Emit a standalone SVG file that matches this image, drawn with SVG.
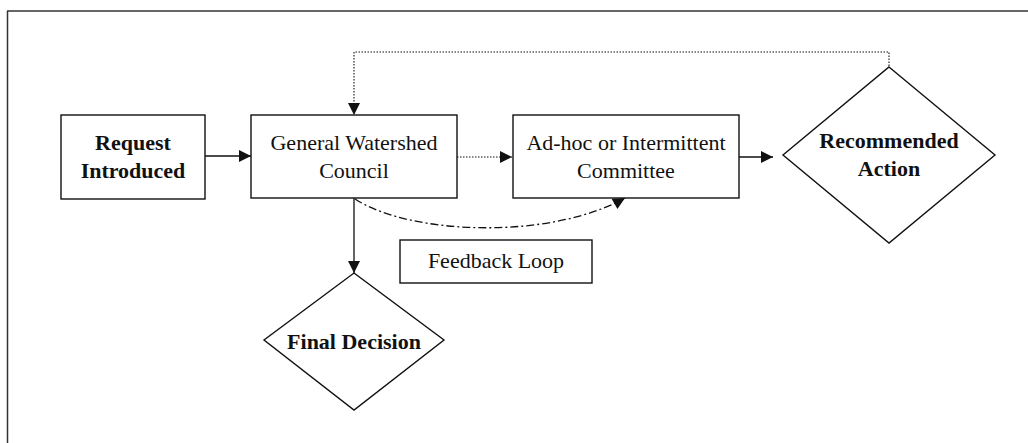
<svg xmlns="http://www.w3.org/2000/svg" width="1028" height="443" viewBox="0 0 1028 443">
<style>
.box{fill:#fff;stroke:#111;stroke-width:1.4}
.t{font-family:"Liberation Serif","Times New Roman",serif;font-size:22px;fill:#111;text-anchor:middle}
.b{font-weight:bold}
.c{fill:none;stroke:#111;stroke-width:1.3}
.dot{stroke-dasharray:1.5 1.5;stroke-width:1.1}
.dd{stroke-dasharray:8 3 2 3}
</style>
<defs>
<marker id="ah" markerUnits="userSpaceOnUse" markerWidth="14" markerHeight="14" viewBox="0 0 14 14" refX="13" refY="7" orient="auto">
<path d="M1,1 L13,7 L1,13 Z" fill="#111"/>
</marker>
</defs>
<g id="frame" fill="none" stroke="#333" stroke-width="1.5">
<line x1="7" y1="11" x2="1028" y2="11"/>
<line x1="7.5" y1="11" x2="7.5" y2="443"/>
</g>
<g id="connectors">
<line class="c" x1="205" y1="156" x2="251" y2="156" marker-end="url(#ah)"/>
<line class="c dot" x1="457" y1="157" x2="512" y2="157" marker-end="url(#ah)"/>
<line class="c" x1="739" y1="157" x2="773" y2="157" marker-end="url(#ah)"/>
<line class="c" x1="354" y1="198" x2="354" y2="273" marker-end="url(#ah)"/>
<path class="c dot" d="M889,66 L889,52 L354,52 L354,115" marker-end="url(#ah)"/>
<path class="c dd" d="M355,199 C410,235 550,240 625,198" marker-end="url(#ah)"/>
</g>
<g id="request">
<rect class="box" x="61" y="115" width="144" height="84"/>
<text class="t b" x="133" y="150">Request</text>
<text class="t b" x="133" y="178">Introduced</text>
</g>
<g id="council">
<rect class="box" x="251" y="115" width="206" height="83"/>
<text class="t" x="354" y="150">General Watershed</text>
<text class="t" x="354" y="178">Council</text>
</g>
<g id="committee">
<rect class="box" x="513" y="115" width="226" height="83"/>
<text class="t" x="626" y="150">Ad-hoc or Intermittent</text>
<text class="t" x="626" y="178">Committee</text>
</g>
<g id="recommended">
<polygon class="box" points="889,67 995,155 889,243 783,155"/>
<text class="t b" x="889" y="148">Recommended</text>
<text class="t b" x="889" y="176">Action</text>
</g>
<g id="final">
<polygon class="box" points="354,273 444,340 354,410 264,340"/>
<text class="t b" x="354" y="349">Final Decision</text>
</g>
<g id="feedback">
<rect class="box" x="400" y="240" width="192" height="43"/>
<text class="t" x="496" y="268">Feedback Loop</text>
</g>
</svg>
